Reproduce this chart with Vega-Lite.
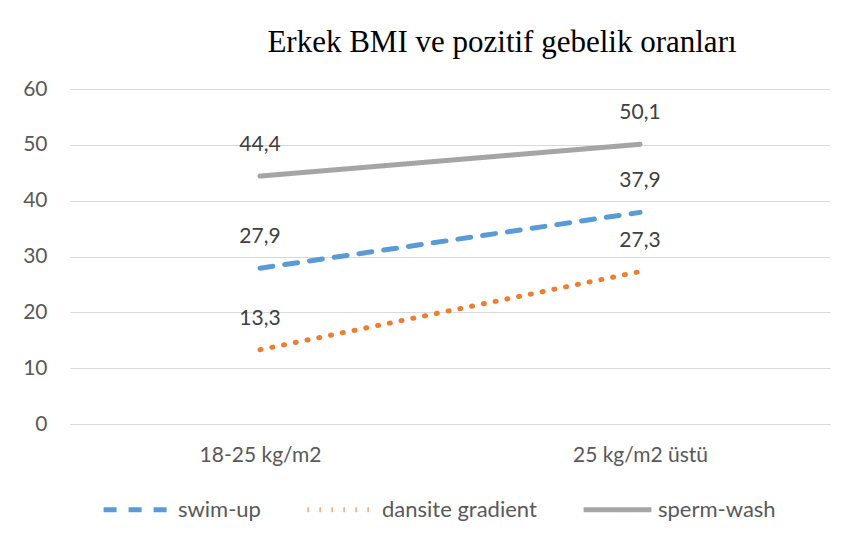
{
  "$schema": "https://vega.github.io/schema/vega-lite/v6.json",
  "width": 760,
  "height": 335,
  "autosize": {"type": "none"},
  "padding": {"left": 70, "top": 89, "right": 21, "bottom": 128},
  "background": "white",
  "title": {
    "text": "Erkek BMI ve pozitif gebelik oranları",
    "font": "Liberation Serif",
    "fontSize": 31,
    "fontWeight": "normal",
    "color": "#000000",
    "anchor": "middle",
    "frame": "group",
    "baseline": "alphabetic",
    "offset": 33,
    "dx": 52,
    "dy": 38
  },
  "data": {
    "values": [
      {"grup": "swim-up", "bmi": "18-25 kg/m2", "oran": 27.9},
      {"grup": "swim-up", "bmi": "25 kg/m2 üstü", "oran": 37.9},
      {"grup": "dansite gradient", "bmi": "18-25 kg/m2", "oran": 13.3},
      {"grup": "dansite gradient", "bmi": "25 kg/m2 üstü", "oran": 27.3},
      {"grup": "sperm-wash", "bmi": "18-25 kg/m2", "oran": 44.4},
      {"grup": "sperm-wash", "bmi": "25 kg/m2 üstü", "oran": 50.1}
    ]
  },
  "encoding": {
    "x": {
      "field": "bmi",
      "type": "nominal",
      "sort": ["18-25 kg/m2", "25 kg/m2 üstü"],
      "scale": {"type": "point", "padding": 0.5},
      "axis": {
        "title": null,
        "labelAngle": 0,
        "labelFont": "Lato",
        "labelFontSize": 21,
        "labelColor": "#595959",
        "labelPadding": 20,
        "ticks": false,
        "grid": false,
        "domainColor": "#D9D9D9",
        "domainWidth": 1
      }
    },
    "y": {
      "field": "oran",
      "type": "quantitative",
      "scale": {"domain": [0, 60], "nice": false},
      "axis": {
        "title": null,
        "values": [0, 10, 20, 30, 40, 50, 60],
        "labelFont": "Lato",
        "labelFontSize": 21,
        "labelColor": "#595959",
        "labelPadding": 23,
        "ticks": false,
        "domain": false,
        "gridColor": "#D9D9D9",
        "gridWidth": 1,
        "format": "d"
      }
    }
  },
  "layer": [
    {
      "mark": {"type": "line", "strokeWidth": 5, "strokeCap": "round"},
      "encoding": {
        "color": {
          "field": "grup",
          "type": "nominal",
          "sort": ["swim-up", "dansite gradient", "sperm-wash"],
          "scale": {
            "domain": ["swim-up", "dansite gradient", "sperm-wash"],
            "range": ["#5B9BD5", "#ED7D31", "#A5A5A5"]
          },
          "legend": {
            "title": null,
            "orient": "none",
            "legendX": 31,
            "legendY": 384,
            "padding": 0,
            "direction": "horizontal",
            "symbolType": "stroke",
            "symbolSize": 4600,
            "symbolStrokeWidth": 5,
            "labelFont": "Lato",
            "labelFontSize": 22,
            "labelColor": "#595959",
            "labelOffset": 4,
            "columnPadding": 36,
            "encoding": {"symbols": {"update": {"strokeCap": {"value": "round"}}}}
          }
        },
        "strokeDash": {
          "field": "grup",
          "type": "nominal",
          "sort": ["swim-up", "dansite gradient", "sperm-wash"],
          "scale": {
            "domain": ["swim-up", "dansite gradient", "sperm-wash"],
            "range": [[13, 12], [1, 11], [1, 0]]
          },
          "legend": null
        }
      }
    },
    {
      "mark": {"type": "text", "dy": -31, "font": "Lato", "fontSize": 21, "color": "#404040"},
      "encoding": {
        "text": {"field": "oran", "type": "quantitative", "format": ".1f"},
        "detail": {"field": "grup", "type": "nominal"}
      }
    }
  ],
  "config": {
    "locale": {
      "number": {"decimal": ",", "thousands": ".", "grouping": [3], "currency": ["", " TL"]}
    },
    "view": {"stroke": null}
  }
}
